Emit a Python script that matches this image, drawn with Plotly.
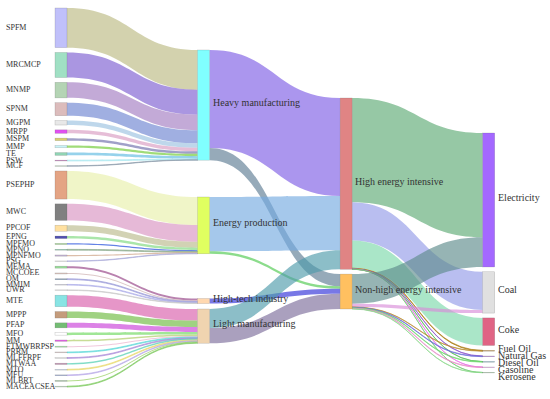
import plotly.graph_objects as go

# ---------------- data ----------------
heavy_sectors = ["SPFM", "MRCMCP", "MNMP", "SPNM", "MGPM", "MRPP", "MSPM", "MMP", "TE", "PSW", "MCF"]
heavy_values = [39.5, 25, 15.5, 13, 4.5, 3.5, 2.5, 2.3, 2.8, 0.8, 0.4]

energy_sectors = ["PSEPHP", "MWC", "PPCOF", "EPNG", "MPFMO", "MPNO", "MPNFMO", "PSG"]
energy_values = [28, 16.5, 6, 2.5, 1.2, 0.8, 1.2, 0.4]

hightech_sectors = ["MEMA", "MCCOEE", "OM", "MMIM", "UWR"]
hightech_values = [2, 1, 0.8, 0.7, 0.5]

light_sectors = ["MTE", "MPPP", "PFAP", "MFO", "MM", "FTMWBRPSP", "PRRM", "MLFFRPF",
                 "MTWAA", "MTO", "MFU", "MLBRT", "MACEACSEA"]
light_values = [11.5, 6.5, 5, 2.5, 1.4, 1, 0.8, 0.8, 1.3, 0.8, 0.7, 1, 0.8]

categories = ["Heavy manufacturing", "Energy production", "High-tech industry", "Light manufacturing"]
intensity = ["High energy intensive", "Non-high energy intensive"]
energy_types = ["Electricity", "Coal", "Coke", "Fuel Oil", "Natural Gas", "Diesel Oil", "Gasoline", "Kerosene"]

category_to_high = [97.6, 54.1, 0, 19.0]
category_to_non = [12.2, 2.5, 5.0, 15.1]

high_to_energy = [104, 38, 27.5, 0.6, 0.2, 0.2, 0.1, 0.1]
non_to_energy = [29.5, 3.2, 0, 0.3, 0.5, 0.5, 0.5, 0.3]

# ---------------- styles ----------------
heavy_node_colors = ["#c0c0fa", "#a0e0c4", "#b4d4b4", "#dcbcbc", "#e8e8e8", "#e050f0", "#d8d070",
                     "#c8f4f8", "#90d4b4", "#d088c8", "#a8c8a8"]
energy_node_colors = ["#e4a484", "#808080", "#ffe0a0", "#5050b0", "#a8d898", "#80c4a4", "#c4b4d4", "#e0e0e0"]
hightech_node_colors = ["#98dc98", "#e4ccc4", "#6484a4", "#d4d4e4", "#e4e4e4"]
light_node_colors = ["#88e4e4", "#c49c7c", "#74bc74", "#ffffff", "#e464e4", "#a4e4a4", "#e4d4d4",
                     "#e8e8e8", "#c494b4", "#d4e4f4", "#8494c4", "#a4c4a4", "#c4e4c4"]
category_node_colors = ["#80ffff", "#e0ff60", "#ffd8b0", "#f0d4b0"]
intensity_node_colors = ["#e08484", "#ffc060"]
energy_node_colors_c3 = ["#a468ff", "#e0e0e0", "#e06484", "#c8a060", "#b080d0", "#80b0c0", "#e0a0e0", "#a0d0a0"]

heavy_link_colors = ["#d3d2ae", "#aa96e1", "#c3aad7", "#a0afe1", "#bed7eb", "#e6bed7", "#a0a0c8",
                     "#a0dc78", "#96d2eb", "#c8f0f5", "#b4bec8"]
energy_link_colors = ["#f0f5c8", "#e6b9d7", "#d2d2b4", "#aae6aa", "#6482e6", "#b4c8b4", "#dcbeaa", "#c8c8e6"]
hightech_link_colors = ["#b982af", "#dcc8c8", "#bebee6", "#c8c8f0", "#dcdcdc"]
light_link_colors = ["#e696c8", "#a0d282", "#dc82e6", "#a0e696", "#c8dc96", "#f0c8dc", "#96e6e6",
                     "#c8b4e6", "#82dcc8", "#f0e6a0", "#d2c8f0", "#b4dc8c", "#aadc96"]
cat_high_link_colors = ["#ab96ee", "#a5c8eb", "#a5c8eb", "#8cbec8"]
cat_non_link_colors = ["#96aab9", "#8cdc8c", "#7878e6", "#aaa0be"]
high_energy_link_colors = ["#96c8a5", "#b9bef0", "#aae6c8", "#c8aa64", "#b48cdc", "#8cd28c", "#f0a0f0", "#a0dca0"]
non_energy_link_colors = ["#96b4b4", "#e6b4e6", "#aae6c8", "#d2b478", "#a0a0e6", "#a0e6a0", "#f0b4dc", "#b4e6b4"]

LINK_ALPHA = 0.65


def rgba(hexcol, a=LINK_ALPHA):
    h = hexcol.lstrip("#")
    disp = [int(h[i:i + 2], 16) for i in (0, 2, 4)]
    base = [max(0, min(255, round((d - (1 - a) * 255) / a))) for d in disp]
    return "rgba(%d,%d,%d,%.2f)" % (base[0], base[1], base[2], a)


# ---------------- geometry ----------------
FIG_W, FIG_H = 550, 399
PLOT_L, PLOT_R = 55, 494.7
PLOT_T, PLOT_B = 8, 387
THICK = 12
PAD = 4.8
W = PLOT_R - PLOT_L
H = PLOT_B - PLOT_T
col1_tops = [42, 189, 290.5, 301]   # px from plot top
col2_top = 90
col3_top = 125

# ---------------- build nodes ----------------
sector_groups = [
    (heavy_sectors, heavy_values, heavy_node_colors, heavy_link_colors),
    (energy_sectors, energy_values, energy_node_colors, energy_link_colors),
    (hightech_sectors, hightech_values, hightech_node_colors, hightech_link_colors),
    (light_sectors, light_values, light_node_colors, light_link_colors),
]

names, cols, vals, ncolors = [], [], [], []
src, tgt, lv, lc = [], [], [], []

sector_idx = []
for g, (secs, vs, nc, lcs) in enumerate(sector_groups):
    for s, v, c in zip(secs, vs, nc):
        sector_idx.append(len(names))
        names.append(s); cols.append(0); vals.append(v); ncolors.append(c)

cat_idx = []
for c, col in zip(categories, category_node_colors):
    cat_idx.append(len(names))
    names.append(c); cols.append(1); ncolors.append(col); vals.append(0)
int_idx = []
for c, col in zip(intensity, intensity_node_colors):
    int_idx.append(len(names))
    names.append(c); cols.append(2); ncolors.append(col); vals.append(0)
en_idx = []
for c, col in zip(energy_types, energy_node_colors_c3):
    en_idx.append(len(names))
    names.append(c); cols.append(3); ncolors.append(col); vals.append(0)

k = 0
for g, (secs, vs, nc, lcs) in enumerate(sector_groups):
    for s, v, c in zip(secs, vs, lcs):
        src.append(sector_idx[k]); tgt.append(cat_idx[g]); lv.append(v); lc.append(rgba(c))
        vals[cat_idx[g]] += v
        k += 1

for i in range(len(categories)):
    for j, arr, colors in ((0, category_to_high, cat_high_link_colors), (1, category_to_non, cat_non_link_colors)):
        if arr[i] > 0:
            src.append(cat_idx[i]); tgt.append(int_idx[j]); lv.append(arr[i]); lc.append(rgba(colors[i]))
            vals[int_idx[j]] += arr[i]

for j, (arr, colors) in enumerate(((high_to_energy, high_energy_link_colors), (non_to_energy, non_energy_link_colors))):
    for e in range(len(energy_types)):
        if arr[e] > 0:
            src.append(int_idx[j]); tgt.append(en_idx[e]); lv.append(arr[e]); lc.append(rgba(colors[e]))
            vals[en_idx[e]] += arr[e]

# ---------------- fixed node layout ----------------
total = sum(vals[i] for i in sector_idx)
ky = (H - (len(sector_idx) - 1) * PAD) / total

centers = [0.0] * len(names)


def stack(indices, top):
    y = top
    for i in indices:
        h = vals[i] * ky
        centers[i] = y + h / 2
        y += h + PAD


stack(sector_idx, 0)
for i, t in zip(cat_idx, col1_tops):
    centers[i] = t + vals[i] * ky / 2
stack(int_idx, col2_top)
stack(en_idx, col3_top)

node_x = [(THICK / 2 + c * (W - THICK) / 3) / W for c in cols]
node_y = [cy / H for cy in centers]

fig = go.Figure(go.Sankey(
    arrangement="fixed",
    domain=dict(x=[PLOT_L / FIG_W, PLOT_R / FIG_W], y=[1 - PLOT_B / FIG_H, 1 - PLOT_T / FIG_H]),
    node=dict(
        label=[""] * len(names),
        customdata=names,
        hovertemplate="%{customdata}: %{value}<extra></extra>",
        color=ncolors,
        x=node_x,
        y=node_y,
        pad=PAD,
        thickness=THICK,
        line=dict(color="rgba(90,90,90,0.35)", width=0.5),
    ),
    link=dict(source=src, target=tgt, value=lv, color=lc),
))

# ---------------- labels ----------------
annotations = []
FONT = "Liberation Serif"
for i in sector_idx:
    annotations.append(dict(
        x=4 / FIG_W, y=1 - (PLOT_T + centers[i] - 0.5) / FIG_H, xref="paper", yref="paper",
        text=names[i], showarrow=False, xanchor="left", yanchor="middle",
        font=dict(family=FONT, size=8, color="#333333")))

last_label_y = -1e9
for i in cat_idx + int_idx + en_idx:
    x_right = PLOT_L + node_x[i] * W + THICK / 2 + 1
    ly = PLOT_T + centers[i] - 2.5
    if cols[i] == 3:
        ly = max(ly, last_label_y + 7.1)
        last_label_y = ly
    annotations.append(dict(
        x=x_right / FIG_W, y=1 - ly / FIG_H, xref="paper", yref="paper",
        text=names[i], showarrow=False, xanchor="left", yanchor="middle",
        font=dict(family=FONT, size=10, color="#333333")))

fig.update_layout(
    width=FIG_W, height=FIG_H,
    margin=dict(l=0, r=0, t=0, b=0),
    paper_bgcolor="white",
    annotations=annotations,
    font=dict(family=FONT, size=10, color="#333333"),
)

fig.write_html("out.html", config={"displayModeBar": False},
               post_script="document.body.style.margin='0px';")
